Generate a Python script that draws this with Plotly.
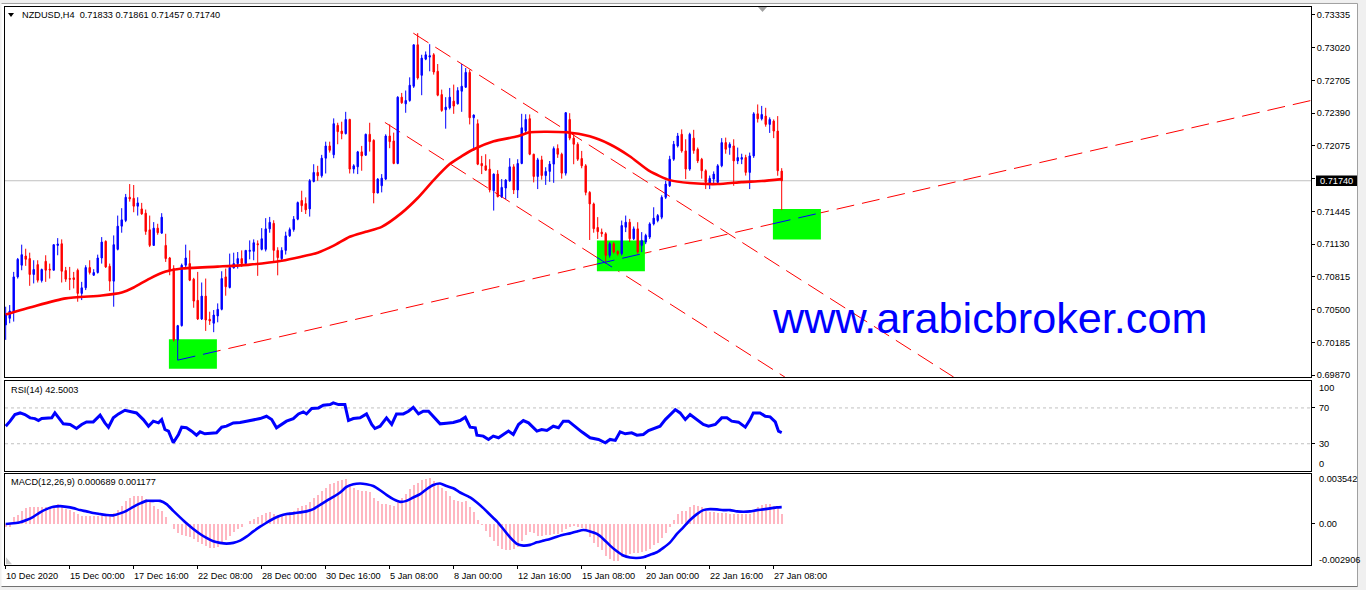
import plotly.graph_objects as go

W, H = 1366, 593

# ---------------- data ----------------
open_ = [0.70353,0.70416,0.70480,0.70815,0.70927,0.71016,0.70991,0.70838,0.70933,0.70780,
         0.70965,0.70889,0.70879,0.71118,0.71134,0.70876,0.70799,0.70806,0.70879,0.70656,
         0.70710,0.70905,0.70831,0.70857,0.70997,0.71157,0.70917,0.70774,0.71080,0.71303,
         0.71358,0.71581,0.71571,0.71495,0.71469,0.71428,0.71268,0.71118,0.71284,0.71236,
         0.71118,0.70997,0.70895,0.70209,0.70346,0.70927,0.70943,0.70793,0.70589,0.70410,
         0.70630,0.70407,0.70369,0.70439,0.70503,0.70815,0.70713,0.70901,0.70943,0.70991,
         0.70943,0.71061,0.71061,0.71134,0.71080,0.71080,0.71277,0.71330,0.71070,0.70990,
         0.71070,0.71210,0.71270,0.71370,0.71550,0.71520,0.71469,0.71733,0.71820,0.71788,
         0.71957,0.72075,0.71990,0.72273,0.72218,0.72193,0.72330,0.71852,0.71874,0.72018,
         0.71986,0.72187,0.72129,0.71622,0.71692,0.71756,0.72171,0.72123,0.71906,0.72544,
         0.72480,0.72512,0.72649,0.73048,0.72754,0.72910,0.72930,0.72952,0.72793,0.72569,
         0.72423,0.72442,0.72506,0.72480,0.72601,0.72640,0.72783,0.72346,0.72289,0.71906,
         0.71884,0.71852,0.71644,0.71804,0.71587,0.71670,0.71740,0.71874,0.71651,0.71906,
         0.72220,0.72337,0.71995,0.71781,0.71941,0.71790,0.71830,0.71900,0.72050,0.71995,
         0.71813,0.72330,0.72150,0.72091,0.71954,0.71884,0.71628,0.71517,0.71290,0.71245,
         0.71230,0.71022,0.71134,0.71060,0.71038,0.71293,0.71341,0.71182,0.71277,0.71118,
         0.71150,0.71198,0.71325,0.71357,0.71389,0.71580,0.71692,0.71947,0.72075,0.72187,
         0.72027,0.71852,0.72150,0.72043,0.71947,0.71836,0.71718,0.71756,0.71724,0.71884,
         0.72107,0.72059,0.72075,0.71931,0.71947,0.71963,0.71820,0.71979,0.72384,0.72336,
         0.72362,0.72282,0.72314,0.72218,0.71833]
high_ = [0.70528,0.70544,0.70863,0.70997,0.71125,0.71086,0.71048,0.70975,0.70975,0.70895,
         0.71023,0.70943,0.71125,0.71188,0.71176,0.70911,0.70911,0.70863,0.70895,0.70767,
         0.70927,0.70975,0.70889,0.71029,0.71198,0.71166,0.70943,0.71214,0.71405,0.71476,
         0.71613,0.71708,0.71699,0.71581,0.71527,0.71463,0.71405,0.71342,0.71326,0.71428,
         0.71230,0.71007,0.70927,0.70353,0.70943,0.71125,0.71070,0.70806,0.70863,0.70761,
         0.70799,0.70480,0.70496,0.70560,0.70869,0.70895,0.71039,0.71048,0.71054,0.71070,
         0.71070,0.71166,0.71176,0.71166,0.71284,0.71380,0.71392,0.71360,0.71100,0.71100,
         0.71250,0.71290,0.71400,0.71540,0.71644,0.71580,0.71756,0.71899,0.71884,0.71989,
         0.72116,0.72116,0.72340,0.72298,0.72308,0.72403,0.72336,0.71899,0.72027,0.72075,
         0.72193,0.72298,0.72139,0.71765,0.71804,0.72187,0.72282,0.72203,0.72553,0.72585,
         0.72608,0.72735,0.73050,0.73160,0.72952,0.72984,0.73054,0.72968,0.72863,0.72617,
         0.72544,0.72633,0.72665,0.72640,0.72863,0.72825,0.72809,0.72378,0.72330,0.71979,
         0.71995,0.71947,0.71810,0.71842,0.71756,0.71756,0.71957,0.71899,0.71947,0.72384,
         0.72380,0.72378,0.72000,0.71960,0.71980,0.71870,0.71930,0.72070,0.72090,0.72010,
         0.72400,0.72390,0.72200,0.72110,0.72027,0.71900,0.71640,0.71530,0.71390,0.71280,
         0.71245,0.71150,0.71150,0.71070,0.71357,0.71405,0.71373,0.71300,0.71341,0.71246,
         0.71230,0.71340,0.71485,0.71420,0.71600,0.71740,0.71980,0.72123,0.72200,0.72234,
         0.72139,0.72202,0.72230,0.72060,0.71960,0.71850,0.71790,0.71830,0.71900,0.72150,
         0.72155,0.72110,0.72139,0.72059,0.72000,0.71990,0.72011,0.72400,0.72474,0.72460,
         0.72442,0.72350,0.72330,0.72362,0.71861]
low_ = [0.70209,0.70369,0.70385,0.70799,0.70879,0.70921,0.70729,0.70752,0.70761,0.70761,
        0.70767,0.70799,0.70879,0.71023,0.70761,0.70767,0.70688,0.70704,0.70576,0.70592,
        0.70688,0.70838,0.70825,0.70847,0.70943,0.70901,0.70678,0.70528,0.71070,0.71240,
        0.71342,0.71539,0.71437,0.71405,0.71412,0.71220,0.71102,0.71112,0.71220,0.71230,
        0.70959,0.70831,0.70193,0.70014,0.70337,0.70895,0.70774,0.70518,0.70400,0.70400,
        0.70295,0.70353,0.70283,0.70378,0.70493,0.70634,0.70704,0.70895,0.70895,0.70911,
        0.70927,0.70984,0.70975,0.70825,0.71070,0.71060,0.71240,0.70960,0.70830,0.70960,
        0.71030,0.71200,0.71250,0.71360,0.71440,0.71420,0.71395,0.71724,0.71740,0.71770,
        0.71810,0.72011,0.71957,0.72091,0.72139,0.72186,0.71810,0.71810,0.71804,0.71836,
        0.71979,0.72021,0.71523,0.71619,0.71628,0.71746,0.72053,0.71899,0.71899,0.72480,
        0.72394,0.72500,0.72633,0.72713,0.72563,0.72900,0.72793,0.72761,0.72553,0.72403,
        0.72241,0.72426,0.72384,0.72474,0.72403,0.72633,0.72282,0.72027,0.71890,0.71804,
        0.71836,0.71628,0.71453,0.71580,0.71574,0.71564,0.71730,0.71612,0.71574,0.71899,
        0.72200,0.71986,0.71724,0.71660,0.71750,0.71700,0.71730,0.71720,0.71960,0.71760,
        0.71790,0.72130,0.71899,0.71930,0.71860,0.71600,0.71170,0.71240,0.71180,0.71200,
        0.70942,0.71000,0.71040,0.71020,0.71022,0.71246,0.71150,0.71170,0.71038,0.71054,
        0.71130,0.71180,0.71310,0.71340,0.71370,0.71564,0.71680,0.71931,0.72060,0.72010,
        0.71756,0.71836,0.72000,0.71910,0.71760,0.71660,0.71660,0.71700,0.71700,0.71870,
        0.72000,0.71990,0.71692,0.71900,0.71900,0.71790,0.71660,0.71960,0.72300,0.72320,
        0.72260,0.72200,0.72150,0.71788,0.71457]
close_ = [0.70448,0.70487,0.70815,0.70984,0.71029,0.70984,0.70838,0.70886,0.70783,0.70886,
          0.70879,0.70882,0.71125,0.71131,0.70869,0.70793,0.70793,0.70790,0.70656,0.70710,
          0.70905,0.70857,0.70857,0.70997,0.71150,0.70911,0.70774,0.71125,0.71303,0.71364,
          0.71581,0.71565,0.71495,0.71527,0.71421,0.71252,0.71118,0.71284,0.71240,0.71389,
          0.70991,0.70879,0.70209,0.70346,0.70927,0.70997,0.70783,0.70582,0.70410,0.70630,
          0.70400,0.70391,0.70448,0.70503,0.70799,0.70720,0.70905,0.70943,0.70991,0.70943,
          0.71070,0.71070,0.71144,0.71125,0.71182,0.71277,0.71340,0.71070,0.71000,0.71070,
          0.71210,0.71270,0.71370,0.71530,0.71500,0.71460,0.71740,0.71820,0.71788,0.71957,
          0.72075,0.72033,0.72289,0.72212,0.72193,0.72330,0.71852,0.71884,0.72018,0.71979,
          0.72187,0.72116,0.71622,0.71756,0.71765,0.72171,0.72116,0.71906,0.72544,0.72490,
          0.72512,0.72659,0.73048,0.72729,0.72920,0.72952,0.72943,0.72786,0.72563,0.72416,
          0.72448,0.72544,0.72458,0.72608,0.72649,0.72783,0.72346,0.72372,0.71899,0.71884,
          0.71842,0.71651,0.71804,0.71587,0.71676,0.71746,0.71874,0.71651,0.71906,0.72250,
          0.72330,0.71995,0.71781,0.71941,0.71790,0.71830,0.71900,0.72050,0.71995,0.71813,
          0.72395,0.72150,0.72091,0.71947,0.71884,0.71628,0.71517,0.71278,0.71250,0.71230,
          0.71022,0.71134,0.71054,0.71038,0.71309,0.71341,0.71182,0.71277,0.71054,0.71166,
          0.71214,0.71325,0.71380,0.71405,0.71580,0.71708,0.71947,0.72091,0.72171,0.72027,
          0.71852,0.72187,0.72030,0.71931,0.71836,0.71724,0.71763,0.71804,0.71884,0.72107,
          0.72043,0.72091,0.71931,0.71963,0.71963,0.71820,0.71979,0.72384,0.72336,0.72378,
          0.72282,0.72330,0.72218,0.71836,0.71740]

ma_bar = [0, 7, 15, 24, 29, 32, 36, 40, 44, 53, 61, 69, 78, 82, 86, 90, 94, 99, 103, 107,
          111, 114, 117, 122, 128, 131, 140, 146, 151, 156, 161, 166, 171, 178, 184, 189, 194]
ma_val = [0.70454, 0.70531, 0.70608, 0.70636, 0.70665, 0.70713, 0.70799, 0.70866, 0.70895, 0.70914,
          0.70933, 0.70971, 0.71048, 0.71115, 0.71201, 0.71249, 0.71297, 0.71431, 0.71574, 0.71746,
          0.71900, 0.71976, 0.72043, 0.72120, 0.72167, 0.72206, 0.72206, 0.72167, 0.72091, 0.71976,
          0.71832, 0.71746, 0.71718, 0.71708, 0.71727, 0.71737, 0.71756]

rsi_bar = [0, 1.1, 2.3, 3.6, 4.8, 6.1, 7.3, 8.2, 9.0, 10.2, 11.5, 12.3, 13.2, 14.4, 16.1, 17.7, 19.0,
           20.2, 21.9, 23.6, 24.8, 25.7, 26.9, 28.2, 29.8, 31.5, 32.7, 34.4, 35.7, 36.9, 38.2, 39.0,
           39.8, 40.7, 41.9, 43.2, 44.0, 45.2, 46.5, 47.7, 48.6, 49.8, 51.5, 52.7, 54.0, 55.2, 56.9,
           58.6, 60.2, 61.9, 63.6, 65.2, 66.5, 67.7, 69.0, 70.2, 71.9, 73.2, 74.4, 75.2, 76.5, 78.2,
           79.4, 81.1, 81.9, 83.2, 84.8, 85.7, 86.9, 88.6, 90.2, 91.5, 92.3, 93.6, 95.2, 96.5, 97.7,
           99.4, 100.7, 101.9, 103.2, 104.4, 105.7, 106.9, 108.6, 110.2, 111.9, 113.6, 114.9, 116.1,
           117.4, 117.8, 119.4, 120.7, 121.9, 123.2, 124.4, 125.7, 126.9, 128.2, 129.4, 130.7, 132.8,
           134.0, 135.3, 136.9, 138.2, 139.4, 140.7, 142.4, 144.0, 146.1, 148.2, 149.9, 151.1, 152.4,
           153.6, 154.9, 156.5, 157.8, 159.4, 160.7, 162.4, 163.6, 164.9, 166.5, 167.4, 168.6, 169.9,
           171.1, 172.8, 174.4, 175.7, 177.4, 179.0, 180.3, 181.5, 183.2, 184.9, 186.1, 186.9, 188.6,
           189.9, 191.1, 192.4, 193.2, 194]
rsi_val = [49.6, 55.2, 62.6, 64.4, 62.6, 58.9, 58.1, 55.9, 58.1, 58.1, 58.9, 64.4, 58.9, 52.2, 51.5,
           47.0, 51.5, 54.4, 54.4, 61.9, 53.3, 48.5, 58.9, 63.3, 67.4, 65.6, 64.4, 57.0, 49.6, 55.2,
           53.3, 57.0, 45.9, 44.1, 31.1, 40.4, 48.5, 47.8, 44.1, 39.6, 43.3, 41.1, 41.9, 42.2, 48.5,
           49.6, 53.3, 53.7, 55.2, 57.0, 58.1, 60.7, 57.0, 47.8, 51.5, 55.2, 58.1, 63.3, 65.6, 63.3,
           69.3, 70.0, 73.0, 73.7, 75.6, 73.7, 73.7, 55.9, 58.1, 58.9, 63.3, 51.5, 47.0, 49.6, 58.9,
           51.5, 63.3, 63.3, 66.3, 70.7, 63.3, 66.3, 66.3, 60.7, 52.2, 53.0, 53.7, 55.9, 59.6, 48.5,
           47.8, 39.6, 38.5, 34.8, 38.5, 36.7, 40.4, 44.1, 40.4, 51.5, 55.9, 53.3, 44.1, 45.9, 44.8,
           49.6, 47.8, 55.2, 55.2, 48.5, 43.3, 36.7, 34.8, 31.1, 34.8, 33.7, 43.3, 41.1, 42.2, 39.6,
           40.4, 44.8, 47.8, 49.6, 57.0, 64.4, 68.1, 64.4, 57.0, 62.6, 57.0, 51.5, 49.6, 51.5, 58.9,
           58.9, 55.2, 54.1, 48.5, 57.0, 64.4, 64.4, 60.7, 60.0, 54.4, 44.1, 42.5]

macd_hist = [-0.00025,-0.00020,0.00046,0.00064,0.00092,0.00111,0.00116,0.00116,0.00116,0.00116,
             0.00116,0.00120,0.00127,0.00139,0.00116,0.00104,0.00097,0.00081,0.00069,0.00057,
             0.00057,0.00057,0.00057,0.00057,0.00057,0.00057,0.00064,0.00074,0.00097,0.00127,
             0.00158,0.00181,0.00193,0.00197,0.00193,0.00174,0.00158,0.00127,0.00104,0.00092,
             0.00050,-0.00001,-0.00036,-0.00067,-0.00078,-0.00083,-0.00090,-0.00106,-0.00125,-0.00141,
             -0.00153,-0.00169,-0.00169,-0.00160,-0.00137,-0.00113,-0.00083,-0.00060,-0.00036,-0.00020,
             -0.00001,0.00018,0.00034,0.00050,0.00064,0.00074,0.00081,0.00069,0.00064,0.00069,
             0.00074,0.00081,0.00092,0.00111,0.00127,0.00134,0.00151,0.00181,0.00204,0.00232,
             0.00256,0.00279,0.00291,0.00302,0.00307,0.00314,0.00284,0.00256,0.00239,0.00232,
             0.00232,0.00228,0.00181,0.00158,0.00139,0.00139,0.00134,0.00127,0.00151,0.00181,
             0.00209,0.00244,0.00274,0.00291,0.00307,0.00319,0.00321,0.00302,0.00284,0.00256,
             0.00232,0.00197,0.00167,0.00158,0.00151,0.00158,0.00120,0.00081,0.00027,-0.00008,
             -0.00053,-0.00095,-0.00123,-0.00158,-0.00176,-0.00183,-0.00183,-0.00174,-0.00160,-0.00118,
             -0.00076,-0.00060,-0.00067,-0.00083,-0.00083,-0.00076,-0.00076,-0.00069,-0.00071,-0.00057,
             -0.00036,-0.00025,-0.00015,-0.00020,-0.00027,-0.00043,-0.00090,-0.00134,-0.00165,-0.00183,
             -0.00228,-0.00249,-0.00258,-0.00258,-0.00235,-0.00216,-0.00211,-0.00207,-0.00207,-0.00200,
             -0.00188,-0.00174,-0.00151,-0.00132,-0.00102,-0.00067,-0.00025,0.00027,0.00069,0.00092,
             0.00092,0.00120,0.00134,0.00127,0.00116,0.00092,0.00081,0.00081,0.00074,0.00074,
             0.00074,0.00069,0.00069,0.00069,0.00069,0.00069,0.00069,0.00092,0.00120,0.00134,
             0.00139,0.00139,0.00127,0.00116,0.000689]

sig_bar = [0, 1.9, 3.6, 5.2, 6.9, 8.6, 10.2, 11.9, 13.6, 15.2, 16.9, 18.6, 20.2, 21.9, 23.6, 25.2,
           26.9, 28.6, 30.2, 31.9, 33.6, 35.2, 36.9, 38.6, 40.2, 41.9, 43.6, 45.2, 46.9, 48.6, 50.2,
           51.9, 53.6, 55.2, 56.9, 58.6, 60.2, 61.9, 63.6, 65.2, 66.9, 68.6, 70.2, 71.9, 73.6, 75.2,
           76.9, 78.6, 80.2, 81.9, 83.6, 85.2, 86.9, 88.6, 90.2, 91.9, 93.6, 95.2, 96.9, 98.6, 100.2,
           101.9, 103.6, 105.2, 106.9, 108.6, 110.2, 111.9, 113.6, 116.1, 117.8, 119.4, 121.1, 122.8,
           124.4, 126.1, 127.8, 129.4, 131.1, 132.8, 134.4, 136.1, 137.8, 139.4, 141.1, 142.8, 144.4,
           146.1, 147.8, 149.4, 151.1, 152.8, 154.4, 156.1, 157.8, 159.4, 161.1, 162.8, 164.4, 166.1,
           167.8, 169.4, 171.1, 172.8, 174.4, 176.1, 177.8, 179.4, 181.1, 182.8, 184.4, 186.1, 187.8,
           189.4, 191.1, 192.8, 194]
sig_val = [-0.00001, 0.00004, 0.00011, 0.00027, 0.00050, 0.00081, 0.00104, 0.00120, 0.00125, 0.00120,
           0.00111, 0.00097, 0.00088, 0.00076, 0.00069, 0.00062, 0.00060, 0.00074, 0.00092, 0.00120,
           0.00144, 0.00162, 0.00162, 0.00162, 0.00139, 0.00092, 0.00046, 0.00004, -0.00036, -0.00071,
           -0.00099, -0.00123, -0.00134, -0.00139, -0.00134, -0.00118, -0.00090, -0.00053, -0.00020, 0.00008,
           0.00036, 0.00057, 0.00069, 0.00074, 0.00081, 0.00088, 0.00104, 0.00134, 0.00162, 0.00190,
           0.00221, 0.00260, 0.00279, 0.00284, 0.00279, 0.00267, 0.00237, 0.00204, 0.00174, 0.00155,
           0.00162, 0.00186, 0.00209, 0.00244, 0.00274, 0.00284, 0.00267, 0.00251, 0.00221, 0.00186,
           0.00151, 0.00111, 0.00064, 0.00018, -0.00036, -0.00095, -0.00141, -0.00153, -0.00148, -0.00130,
           -0.00118, -0.00106, -0.00090, -0.00076, -0.00067, -0.00053, -0.00043, -0.00053, -0.00071, -0.00106,
           -0.00153, -0.00193, -0.00223, -0.00237, -0.00240, -0.00235, -0.00218, -0.00200, -0.00169, -0.00130,
           -0.00071, -0.00025, 0.00027, 0.00069, 0.00097, 0.00104, 0.00102, 0.00097, 0.00097, 0.00088,
           0.00085, 0.00088, 0.00097, 0.00102, 0.00109, 0.00116, 0.001177]

price_ticks = [0.69870, 0.70185, 0.70500, 0.70815, 0.71130, 0.71445, 0.71760,
               0.72075, 0.72390, 0.72705, 0.73020, 0.73335]
date_bars = [0, 16, 32, 48, 64, 80, 96, 112, 128, 144, 160, 176, 192]
date_labels = ["10 Dec 2020", "15 Dec 00:00", "17 Dec 16:00", "22 Dec 08:00", "28 Dec 00:00",
               "30 Dec 16:00", "5 Jan 08:00", "8 Jan 00:00", "12 Jan 16:00", "15 Jan 08:00",
               "20 Jan 00:00", "22 Jan 16:00", "27 Jan 08:00"]

last_price = 0.71740
header_text = "NZDUSD,H4  0.71833 0.71861 0.71457 0.71740"
rsi_text = "RSI(14) 42.5003"
macd_text = "MACD(12,26,9) 0.000689 0.001177"
rsi_levels = [30, 70]
rsi_labels = ["100", "70", "30", "0"]
macd_labels = ["0.003542", "0.00", "-0.002906"]

# drawn objects (bar index, price)
trend_lines = [
    ([43.0, 326.3], [0.70014, 0.72512]),    # rising support
    ([101.9, 237.0], [0.73160, 0.69851]),   # channel top
    ([94.8, 194.8], [0.72301, 0.69851]),    # channel bottom
]
boxes = [  # x0, x1, y0, y1
    (40.8, 52.8, 0.69930, 0.70214),
    (147.8, 159.8, 0.70868, 0.71165),
    (191.8, 203.8, 0.71175, 0.71468),
]

# ---------------- layout geometry ----------------
def px(x):
    return x / W

def py(y):
    return 1 - y / H

X_DOM = [px(5), px(1311)]
MAIN_DOM = [py(379), py(7)]
RSI_DOM = [py(473), py(383)]
MACD_DOM = [py(568), py(476)]
XR = [-0.175, 326.325]
PR = [0.69851, 0.73412]
MR = [-0.002906, 0.003542]

FONT = "Liberation Sans, Arial, sans-serif"
FS = 9.2
BLUE = "#0000FF"
RED = "#FF0000"
DASH = "18px,8px"

bars = list(range(len(open_)))

fig = go.Figure()

fig.add_trace(go.Candlestick(
    x=bars, open=open_, high=high_, low=low_, close=close_,
    increasing=dict(line=dict(color=BLUE, width=1), fillcolor=BLUE),
    decreasing=dict(line=dict(color=RED, width=1), fillcolor=RED),
    whiskerwidth=0, hoverinfo="skip", xaxis="x", yaxis="y", showlegend=False))

fig.add_trace(go.Scatter(x=ma_bar, y=ma_val, mode="lines",
                         line=dict(color=RED, width=2.6, shape="spline", smoothing=0.6),
                         hoverinfo="skip", xaxis="x", yaxis="y", showlegend=False))

fig.add_trace(go.Scatter(x=rsi_bar, y=rsi_val, mode="lines",
                         line=dict(color=BLUE, width=3),
                         hoverinfo="skip", xaxis="x2", yaxis="y2", showlegend=False))

fig.add_trace(go.Bar(x=bars, y=macd_hist, width=0.5, marker=dict(color="#FFB6C1", line=dict(width=0)),
                     hoverinfo="skip", xaxis="x3", yaxis="y3", showlegend=False))

fig.add_trace(go.Scatter(x=sig_bar, y=sig_val, mode="lines",
                         line=dict(color=BLUE, width=2.6, shape="spline", smoothing=0.6),
                         hoverinfo="skip", xaxis="x3", yaxis="y3", showlegend=False))


def clip(x0, y0, x1, y1, xa, xb, ya, yb):
    t0, t1 = 0.0, 1.0
    dx, dy = x1 - x0, y1 - y0
    for p, q in ((-dx, x0 - xa), (dx, xb - x0), (-dy, y0 - ya), (dy, yb - y0)):
        if p == 0:
            if q < 0:
                return None
        else:
            t = q / p
            if p < 0:
                t0 = max(t0, t)
            else:
                t1 = min(t1, t)
    if t0 >= t1:
        return None
    return (x0 + t0 * dx, y0 + t0 * dy, x0 + t1 * dx, y0 + t1 * dy)


shapes = []
# window frame
shapes.append(dict(type="rect", xref="paper", yref="paper", x0=0, x1=1, y0=py(3.5), y1=1,
                   fillcolor="#F0F0F0", line=dict(width=0), layer="below"))
shapes.append(dict(type="rect", xref="paper", yref="paper", x0=px(1357.5), x1=1, y0=0, y1=1,
                   fillcolor="#F0F0F0", line=dict(width=0), layer="below"))
shapes.append(dict(type="rect", xref="paper", yref="paper", x0=0, x1=1, y0=0, y1=py(589.5),
                   fillcolor="#F0F0F0", line=dict(width=0), layer="below"))
shapes.append(dict(type="rect", xref="paper", yref="paper", x0=0, x1=px(1.5), y0=0, y1=1,
                   fillcolor="#F0F0F0", line=dict(width=0), layer="below"))
shapes.append(dict(type="line", xref="paper", yref="paper", x0=px(1.5), x1=px(1357.5),
                   y0=py(3.5), y1=py(3.5), line=dict(color="#A0A0A0", width=1), layer="below"))
shapes.append(dict(type="line", xref="paper", yref="paper", x0=px(1357.5), x1=px(1357.5),
                   y0=py(3.5), y1=py(589.5), line=dict(color="#A0A0A0", width=1), layer="below"))
shapes.append(dict(type="line", xref="paper", yref="paper", x0=px(1.5), x1=px(1357.5),
                   y0=py(589.5), y1=py(589.5), line=dict(color="#707070", width=1), layer="below"))

# bid line
shapes.append(dict(type="line", xref="x", yref="y", x0=XR[0], x1=XR[1], y0=last_price, y1=last_price,
                   line=dict(color="#C0C0C0", width=1), layer="below"))
# red dashed lines
for xs, ys in trend_lines:
    shapes.append(dict(type="line", xref="x", yref="y", x0=xs[0], x1=xs[1], y0=ys[0], y1=ys[1],
                       line=dict(color=RED, width=1, dash=DASH), layer="below"))
# green boxes
for bx0, bx1, by0, by1 in boxes:
    shapes.append(dict(type="rect", xref="x", yref="y", x0=bx0, x1=bx1, y0=by0, y1=by1,
                       fillcolor="#00FF00", line=dict(width=0), layer="below"))
# parts of lines over the boxes appear blue
for xs, ys in trend_lines:
    for bx0, bx1, by0, by1 in boxes:
        seg = clip(xs[0], ys[0], xs[1], ys[1], bx0, bx1, by0, by1)
        if seg:
            shapes.append(dict(type="line", xref="x", yref="y", x0=seg[0], y0=seg[1], x1=seg[2], y1=seg[3],
                               line=dict(color=BLUE, width=1, dash=DASH), layer="above"))
# RSI levels
for lv in rsi_levels:
    shapes.append(dict(type="line", xref="x2", yref="y2", x0=XR[0], x1=XR[1], y0=lv, y1=lv,
                       line=dict(color="#C0C0C0", width=1, dash="3px,3px"), layer="below"))
# current price box
shapes.append(dict(type="rect", xref="paper", yref="paper", x0=px(1316), x1=px(1357), y0=py(187), y1=py(176.5),
                   fillcolor="black", line=dict(width=0), layer="above"))
# small markers
shapes.append(dict(type="path", xref="paper", yref="paper",
                   path=f"M {px(8)} {py(13)} L {px(14)} {py(13)} L {px(11)} {py(17)} Z",
                   fillcolor="black", line=dict(width=0), layer="above"))
shapes.append(dict(type="path", xref="paper", yref="paper",
                   path=f"M {px(758)} {py(7)} L {px(767)} {py(7)} L {px(762.5)} {py(12)} Z",
                   fillcolor="#A0A0A0", line=dict(width=0), layer="above"))
shapes.append(dict(type="path", xref="paper", yref="paper",
                   path=f"M {px(6)} {py(560)} L {px(6)} {py(567)} L {px(12)} {py(567)} Z",
                   fillcolor="#C8C8C8", line=dict(width=0), layer="above"))

ann = []
ann.append(dict(xref="paper", yref="paper", x=px(20), y=py(15.5), text=header_text, showarrow=False,
                xanchor="left", yanchor="middle", font=dict(family=FONT, size=FS, color="black")))
ann.append(dict(xref="paper", yref="paper", x=px(9), y=py(391.7), text=rsi_text, showarrow=False,
                xanchor="left", yanchor="middle", font=dict(family=FONT, size=FS, color="black")))
ann.append(dict(xref="paper", yref="paper", x=px(9), y=py(484.5), text=macd_text, showarrow=False,
                xanchor="left", yanchor="middle", font=dict(family=FONT, size=FS, color="black")))
for t, yy in zip(rsi_labels, [389.7, 410.3, 446.3, 466.7]):
    ann.append(dict(xref="paper", yref="paper", x=px(1317), y=py(yy), text=t, showarrow=False,
                    xanchor="left", yanchor="middle", font=dict(family=FONT, size=FS, color="black")))
for t, yy in zip(macd_labels, [481.0, 527.0, 562.7]):
    ann.append(dict(xref="paper", yref="paper", x=px(1317), y=py(yy), text=t, showarrow=False,
                    xanchor="left", yanchor="middle", font=dict(family=FONT, size=FS, color="black")))
for b, t in zip(date_bars, date_labels):
    ann.append(dict(xref="x3", yref="paper", x=b, y=py(578.5), text=t, showarrow=False, xshift=-1.5,
                    xanchor="left", yanchor="middle", font=dict(family=FONT, size=FS, color="black")))
ann.append(dict(xref="paper", yref="paper", x=px(1318), y=py(181.8), text=f"{last_price:.5f}", showarrow=False,
                xanchor="left", yanchor="middle", font=dict(family=FONT, size=FS, color="white")))
ann.append(dict(xref="paper", yref="paper", x=px(770), y=py(320), text="www.arabicbroker.com", showarrow=False,
                xanchor="left", yanchor="middle", font=dict(family=FONT, size=43.2, color=BLUE)))

axis_common = dict(showgrid=False, zeroline=False, showline=True, mirror=True, linecolor="black",
                   linewidth=1)

# the regular label at the bid level is hidden behind the bid box
price_text = ["" if abs(v - last_price) < 0.0003 else f"{v:.5f}" for v in price_ticks]

fig.update_layout(
    width=W, height=H, autosize=False,
    margin=dict(l=0, r=0, t=0, b=0),
    paper_bgcolor="white", plot_bgcolor="white",
    showlegend=False, boxgap=0.5, bargap=0,
    font=dict(family=FONT, size=FS, color="black"),
    xaxis=dict(domain=X_DOM, anchor="y", range=XR, showticklabels=False, ticks="",
               rangeslider=dict(visible=False), **axis_common),
    yaxis=dict(domain=MAIN_DOM, anchor="x", side="right", range=PR, tickvals=price_ticks,
               ticktext=price_text, ticks="outside", ticklen=3,
               tickcolor="black", tickfont=dict(family=FONT, size=FS, color="black"), **axis_common),
    xaxis2=dict(domain=X_DOM, anchor="y2", range=XR, matches="x", showticklabels=False, ticks="",
                **axis_common),
    yaxis2=dict(domain=RSI_DOM, anchor="x2", side="right", range=[0, 100], tickvals=[30, 70],
                ticks="outside", ticklen=3, tickcolor="black", showticklabels=False, **axis_common),
    xaxis3=dict(domain=X_DOM, anchor="y3", range=XR, matches="x", showticklabels=False,
                tickvals=date_bars, ticks="outside", ticklen=3, tickcolor="black", **axis_common),
    yaxis3=dict(domain=MACD_DOM, anchor="x3", side="right", range=MR, tickvals=[0],
                ticks="outside", ticklen=3, tickcolor="black", showticklabels=False, **axis_common),
    shapes=shapes, annotations=ann,
)

fig.write_html("out.html", config={"displayModeBar": False, "staticPlot": True},
               post_script="document.body.style.margin='0px';document.body.style.overflow='hidden';")
